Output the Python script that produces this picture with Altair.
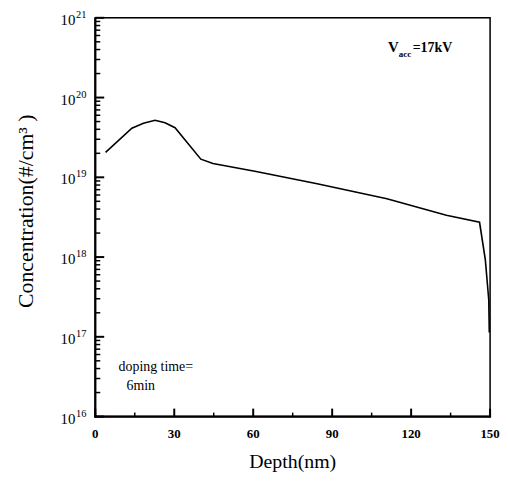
import altair as alt
import pandas as pd

# ---- data ----
depth_nm = [3.9, 13.9, 18.3, 22.7, 26.5, 30.3, 40.1, 44.7, 61.1, 84.3, 110.8, 133.4, 146.0, 148.2, 149.5, 149.7]
concentration = [2.05e19, 4.12e19, 4.75e19, 5.18e19, 4.84e19, 4.19e19, 1.69e19, 1.49e19, 1.18e19,
                 8.3e18, 5.4e18, 3.34e18, 2.73e18, 9.2e17, 2.9e17, 1.13e17]

x_major = [0, 30, 60, 90, 120, 150]
x_labels = ["0", "30", "60", "90", "120", "150"]
x_minor = [15, 45, 75, 105, 135]
y_exponents = [16, 17, 18, 19, 20, 21]
y_major = [10.0 ** e for e in y_exponents]
y_minor = [m * 10.0 ** e for e in y_exponents[:-1] for m in range(2, 10)]

x_title = "Depth(nm)"
y_title = "Concentration(#/cm\u00b3 )"
ann_v = "V"
ann_sub = "acc"
ann_rest = "=17kV"
ann_dope1 = "doping time="
ann_dope2 = "6min"

FONT = "Liberation Serif"
W, H = 398, 402

xs = alt.Scale(domain=[0, 150], nice=False, zero=False)
ys = alt.Scale(type="log", domain=[1e16, 1e21], nice=False)

curve_df = pd.DataFrame({"depth": depth_nm, "conc": concentration})

line = alt.Chart(curve_df).mark_line(color="black", strokeWidth=1.6).encode(
    x=alt.X("depth:Q", scale=xs, axis=None),
    y=alt.Y("conc:Q", scale=ys, axis=None),
)

ymaj_df = pd.DataFrame({"v": y_major})
ymin_df = pd.DataFrame({"v": y_minor})
xmaj_df = pd.DataFrame({"v": x_major, "lab": x_labels})
xmin_df = pd.DataFrame({"v": x_minor})

# inward ticks drawn as tick marks
ytick_major = alt.Chart(ymaj_df).mark_tick(color="black", size=9, thickness=2, opacity=1).encode(
    y=alt.Y("v:Q", scale=ys, axis=None), x=alt.value(4.5))
ytick_minor = alt.Chart(ymin_df).mark_tick(color="black", size=5, thickness=1.5, opacity=1).encode(
    y=alt.Y("v:Q", scale=ys, axis=None), x=alt.value(2.5))
xtick_major = alt.Chart(xmaj_df).mark_tick(color="black", size=8, thickness=2, opacity=1).encode(
    x=alt.X("v:Q", scale=xs, axis=None), y=alt.value(H - 4))
xtick_minor = alt.Chart(xmin_df).mark_tick(color="black", size=4, thickness=1.5, opacity=1).encode(
    x=alt.X("v:Q", scale=xs, axis=None), y=alt.value(H - 2))

# frame: outline rectangle plus heavier left and bottom axis bars
one = pd.DataFrame({"k": [0]})
frame = alt.Chart(one).mark_rect(filled=False, stroke="black", strokeWidth=1.5).encode(
    x=alt.value(0), x2=alt.value(W), y=alt.value(0), y2=alt.value(H))
left_axis = alt.Chart(one).mark_rect(color="black").encode(
    x=alt.value(-1.1), x2=alt.value(1.1), y=alt.value(0), y2=alt.value(H + 1))
bottom_axis = alt.Chart(one).mark_rect(color="black").encode(
    x=alt.value(-1), x2=alt.value(W + 1), y=alt.value(H - 1.1), y2=alt.value(H + 1.1))

ylab_df = pd.DataFrame({"v": y_major, "base": ["10"] * len(y_major), "exp": [str(e) for e in y_exponents]})
ylab_base = alt.Chart(ylab_df).mark_text(font=FONT, fontSize=15, align="right", baseline="middle",
                                         dy=2, color="black").encode(
    y=alt.Y("v:Q", scale=ys, axis=None), x=alt.value(-20), text="base:N")
ylab_exp = alt.Chart(ylab_df).mark_text(font=FONT, fontSize=10.5, align="left", baseline="middle",
                                        dy=-3, color="black").encode(
    y=alt.Y("v:Q", scale=ys, axis=None), x=alt.value(-19.5), text="exp:N")

xlab = alt.Chart(xmaj_df).mark_text(font=FONT, fontSize=13, fontWeight="bold", align="center",
                                    baseline="middle", color="black").encode(
    x=alt.X("v:Q", scale=xs, axis=None), y=alt.value(H + 18), text="lab:N")

def note(txt, x, y, size, weight="normal", align="left", angle=0):
    return alt.Chart(pd.DataFrame({"t": [txt]})).mark_text(
        font=FONT, fontSize=size, fontWeight=weight, align=align, baseline="alphabetic",
        angle=angle, color="black").encode(x=alt.value(x), y=alt.value(y), text="t:N")

notes = [
    note(ann_v, 295, 34.5, 15, "bold"),
    note(ann_sub, 306, 40, 9, "bold"),
    note(ann_rest, 320, 34.5, 14, "bold"),
    note(ann_dope1, 23.5, 355.7, 14),
    note(ann_dope2, 31.5, 375.7, 14),
    note(x_title, W / 2, H + 52, 20, align="center"),
    note(y_title, -63, 195, 22, align="center", angle=270),
]

chart = alt.layer(line, frame, left_axis, bottom_axis,
                  ytick_major, ytick_minor, xtick_major, xtick_minor,
                  ylab_base, ylab_exp, xlab, *notes).properties(
    width=W, height=H,
    autosize=alt.AutoSizeParams(type="none"),
    padding={"left": 88, "top": 8, "right": 10, "bottom": 54},
).configure(background="white")

chart.save("out.html", embed_options={"renderer": "svg", "actions": False})
